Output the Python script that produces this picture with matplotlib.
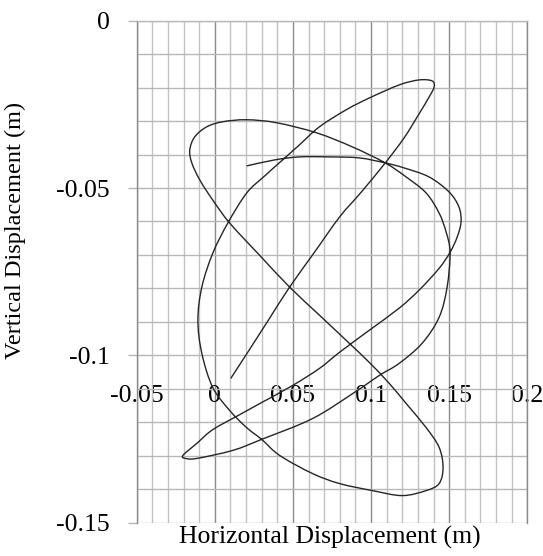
import matplotlib
matplotlib.use("Agg")
import matplotlib.pyplot as plt
import numpy as np
from matplotlib.path import Path
from matplotlib.patches import PathPatch
from matplotlib.ticker import MultipleLocator, FixedLocator

# trajectory (m)
x_disp = [0.0102, 0.0223, 0.0351, 0.0479, 0.0638, 0.0798, 0.0938, 0.1091, 0.1212, 0.1308,
          0.1372, 0.1404, 0.1391, 0.1308, 0.1180, 0.0989, 0.0842, 0.0670, 0.0542, 0.0434,
          0.0319, 0.0204, 0.0083, -0.0013, -0.0083, -0.0108, -0.0083, -0.0013, 0.0096, 0.0204,
          0.0300, 0.0415, 0.0625, 0.0798, 0.1008, 0.1199, 0.1353, 0.1436, 0.1461, 0.1436,
          0.1353, 0.1225, 0.1117, 0.0989, 0.0861, 0.0670, 0.0479, 0.0287, 0.0096, -0.0013,
          -0.0096, -0.0147, -0.0160, -0.0128, -0.0051, 0.0051, 0.0204, 0.0396, 0.0651, 0.0880,
          0.1091, 0.1225, 0.1353, 0.1436, 0.1481, 0.1506, 0.1487, 0.1436, 0.1327, 0.1180,
          0.1053, 0.0893, 0.0625, 0.0300, 0.0115, -0.0115, -0.0185, -0.0204, -0.0115, -0.0013,
          0.0160, 0.0300, 0.0498, 0.0670, 0.0798, 0.0989, 0.1180, 0.1308, 0.1436, 0.1506,
          0.1551, 0.1576, 0.1563, 0.1500, 0.1372, 0.1212, 0.1091, 0.0925, 0.0734, 0.0542,
          0.0383, 0.0204]
y_disp = [-0.1069, -0.0982, -0.0889, -0.0796, -0.0692, -0.0587, -0.0512, -0.0425, -0.0350, -0.0278,
          -0.0228, -0.0198, -0.0180, -0.0177, -0.0192, -0.0231, -0.0266, -0.0317, -0.0371, -0.0416,
          -0.0464, -0.0515, -0.0605, -0.0695, -0.0796, -0.0895, -0.0994, -0.1096, -0.1165, -0.1216,
          -0.1251, -0.1299, -0.1353, -0.1383, -0.1404, -0.1419, -0.1404, -0.1383, -0.1335, -0.1275,
          -0.1216, -0.1144, -0.1084, -0.1021, -0.0964, -0.0880, -0.0796, -0.0701, -0.0605, -0.0536,
          -0.0476, -0.0425, -0.0386, -0.0347, -0.0317, -0.0302, -0.0296, -0.0305, -0.0335, -0.0377,
          -0.0425, -0.0467, -0.0515, -0.0575, -0.0632, -0.0692, -0.0796, -0.0886, -0.0964, -0.1024,
          -0.1060, -0.1111, -0.1189, -0.1251, -0.1284, -0.1308, -0.1308, -0.1299, -0.1263, -0.1222,
          -0.1177, -0.1141, -0.1090, -0.1039, -0.0991, -0.0925, -0.0859, -0.0805, -0.0740, -0.0692,
          -0.0647, -0.0602, -0.0557, -0.0512, -0.0467, -0.0440, -0.0425, -0.0410, -0.0407, -0.0407,
          -0.0416, -0.0434]

x_ticks = [-0.05, 0, 0.05, 0.1, 0.15, 0.2]
x_labels = ['-0.05', '0', '0.05', '0.1', '0.15', '0.2']
y_ticks = [0, -0.05, -0.1, -0.15]
y_labels = ['0', '-0.05', '-0.1', '-0.15']


def smooth_path(xs, ys):
    # smoothed line like the spreadsheet one: cubic bezier through every point
    p = np.column_stack([xs, ys])
    verts = [p[0]]
    codes = [Path.MOVETO]
    n = len(p)
    for i in range(n - 1):
        p0 = p[max(i - 1, 0)]
        p1 = p[i]
        p2 = p[i + 1]
        p3 = p[min(i + 2, n - 1)]
        c1 = p1 + (p2 - p0) / 6.0
        c2 = p2 - (p3 - p1) / 6.0
        verts += [c1, c2, p2]
        codes += [Path.CURVE4] * 3
    return Path(verts, codes)


plt.rcParams['font.family'] = ['Liberation Serif', 'DejaVu Serif']

fig = plt.figure(figsize=(5.43, 5.56), dpi=100)
ax = fig.add_axes([0.2517, 0.0599, 0.7193, 0.9029])

ax.set_xlim(-0.05, 0.2)
ax.set_ylim(-0.15, 0)

# grid
ax.xaxis.set_major_locator(FixedLocator(x_ticks))
ax.xaxis.set_minor_locator(MultipleLocator(0.01))
ax.yaxis.set_major_locator(FixedLocator(y_ticks))
ax.yaxis.set_minor_locator(MultipleLocator(0.01))
ax.grid(True, axis='x', which='minor', color='#c2c2c2', lw=1.0)
ax.grid(True, axis='x', which='major', color='#8a8a8a', lw=1.0)
ax.grid(True, axis='y', which='both', color='#b8b8b8', lw=1.0)
ax.set_axisbelow(True)

ax.add_patch(PathPatch(smooth_path(x_disp, y_disp), facecolor='none',
                       edgecolor='#262626', lw=1.0))

# axes: x axis crosses at -0.1
ax.spines['bottom'].set_position(('data', -0.1))
ax.spines['bottom'].set_color('none')
ax.spines['left'].set_color('#8a8a8a')
ax.spines['right'].set_color('#8a8a8a')
ax.spines['top'].set_color('#b8b8b8')
for s in ax.spines.values():
    s.set_linewidth(1.0)

ax.set_xticks(x_ticks)
ax.set_xticklabels(x_labels)
ax.set_yticks(y_ticks)
ax.set_yticklabels(y_labels)
ax.tick_params(axis='x', which='both', length=0, pad=21, labelsize=18.5)
ax.tick_params(axis='y', which='major', direction='out', length=6.5, width=1.0,
               color='#b8b8b8', pad=13, labelsize=18.5)
ax.tick_params(axis='y', which='minor', length=0)

ax.set_xlabel('Horizontal Displacement (m)', fontsize=18.5)
ax.xaxis.set_label_coords(0.495, -0.006)
ax.set_ylabel('Vertical Displacement (m)', fontsize=17.5)
ax.yaxis.set_label_coords(-0.283, 0.583)

fig.savefig('out.png', dpi=100)
